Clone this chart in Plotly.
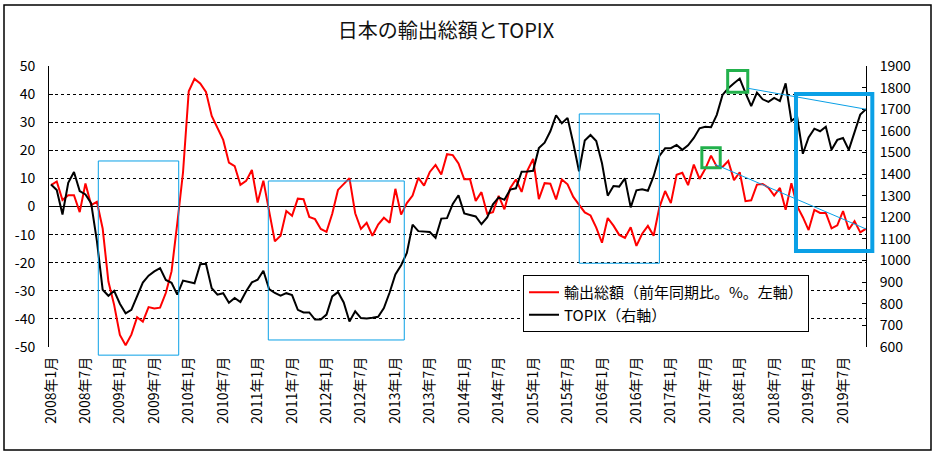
import plotly.graph_objects as go

# ---------------- data ----------------
years = list(range(2008, 2020))
months = [f"{y}年{m}月" for y in years for m in range(1, 13)][:143]   # 2008年1月 .. 2019年11月

exports_yoy = [
    # 2008
    7.6, 8.9, 2.3, 4.0, 4.0, -2.0, 8.2, 0.5, 1.7, -7.8, -26.7, -35.0,
    # 2009
    -45.7, -49.4, -45.6, -39.4, -41.0, -35.8, -36.3, -36.0, -30.8, -23.1, -6.0, 12.1,
    # 2010
    41.0, 45.4, 43.8, 40.8, 32.2, 28.0, 23.7, 15.6, 14.4, 7.7, 9.1, 13.0,
    # 2011
    1.4, 9.2, -1.5, -12.4, -10.4, -1.6, -3.3, 2.8, 2.6, -3.7, -4.5, -8.0,
    # 2012
    -9.0, -2.6, 5.9, 8.0, 10.1, -2.4, -8.0, -5.8, -10.4, -6.4, -4.0, -5.8,
    # 2013
    6.3, -2.9, 1.2, 3.9, 10.2, 7.4, 12.3, 14.8, 11.4, 18.6, 18.3, 15.3,
    # 2014
    9.7, 9.8, 2.0, 5.1, -2.6, -2.0, 3.8, -1.0, 6.5, 9.6, 5.2, 12.8,
    # 2015
    16.9, 2.6, 8.3, 8.1, 2.5, 9.6, 7.9, 3.4, 0.8, -2.1, -3.2, -7.5,
    # 2016
    -12.9, -4.1, -6.8, -10.1, -11.2, -7.4, -14.0, -9.7, -6.9, -10.4, -0.3, 5.5,
    # 2017
    1.2, 11.3, 12.0, 7.6, 14.9, 9.8, 13.4, 18.1, 14.2, 14.1, 16.2, 9.4,
    # 2018
    12.2, 1.9, 2.2, 7.8, 8.0, 6.7, 3.9, 6.6, -1.2, 8.3, 0.1, -3.8,
    # 2019
    -8.4, -1.2, -2.3, -2.3, -7.8, -6.7, -1.6, -8.2, -5.2, -9.2, -7.9,
]

topix = [
    # 2008
    1352, 1326, 1213, 1360, 1410, 1321, 1306, 1265, 1090, 865, 837, 860,
    # 2009
    800, 756, 772, 835, 898, 930, 950, 965, 910, 897, 842, 907,
    # 2010
    902, 895, 983, 985, 872, 842, 849, 805, 827, 808, 858, 899,
    # 2011
    911, 953, 868, 850, 838, 849, 840, 772, 760, 760, 727, 727,
    # 2012
    750, 834, 854, 806, 718, 765, 734, 732, 735, 740, 780, 852,
    # 2013
    936, 978, 1035, 1166, 1136, 1135, 1132, 1105, 1194, 1196, 1262, 1302,
    # 2014
    1218, 1211, 1204, 1168, 1199, 1260, 1292, 1281, 1328, 1334, 1411, 1412,
    # 2015
    1415, 1520, 1545, 1598, 1672, 1635, 1660, 1543, 1413, 1555, 1581, 1553,
    # 2016
    1450, 1300, 1345, 1342, 1380, 1246, 1325, 1330, 1323, 1390, 1484, 1519,
    # 2017
    1520, 1535, 1512, 1533, 1567, 1612, 1619, 1617, 1674, 1766, 1797, 1820,
    # 2018
    1842, 1776, 1714, 1777, 1746, 1734, 1752, 1738, 1820, 1646, 1665, 1494,
    # 2019
    1570, 1610, 1598, 1619, 1512, 1558, 1567, 1512, 1596, 1675, 1700,
]

left_ticks = [-50, -40, -30, -20, -10, 0, 10, 20, 30, 40, 50]
left_ticktext = ["-50", "-40", "-30", "-20", "-10", "0", "10", "20", "30", "40", "50"]
right_ticks = [600, 700, 800, 900, 1000, 1100, 1200, 1300, 1400, 1500, 1600, 1700, 1800, 1900]
x_ticks = months[::6]

title_text = "日本の輸出総額とTOPIX"
name_exports = "輸出総額（前年同期比。%。左軸）"
name_topix = "TOPIX（右軸）"

# highlight annotations (month index, left-axis value)
blue_boxes_thin = [(8.24, 22.25, 16.2, -52.9), (37.86, 61.55, 9.08, -47.5), (92.04, 106.0, 32.95, -20.2)]
blue_box_thick = (129.8, 143.1, 40.0, -15.8)
green_boxes = [(117.9, 121.4, 48.4, 40.7), (113.4, 116.6, 20.9, 13.8)]
trend_topix = [(121.4, 1797), (142, 1700)]      # right-axis values
trend_exports = [(115.7, 15.0), (142, -8.0)]    # left-axis values

# ---------------- layout geometry ----------------
W, H = 934, 455
ML, MR, MT, MB = 49, 68, 66, 108
XMIN, XMAX = -0.35, 142.0
YMIN, YMAX = -50, 50
R_MIN, R_MAX = 600, 1900
PW, PH = W - ML - MR, H - MT - MB

def pxp(i):
    return (i - XMIN) / (XMAX - XMIN)

def pyp(v):
    return (v - YMIN) / (YMAX - YMIN)

def r2l(r):
    return YMIN + (r - R_MIN) / (R_MAX - R_MIN) * (YMAX - YMIN)

def pix2paper(x, y):
    return (x - ML) / PW, (H - MB - y) / PH

FONT = "Noto Sans CJK JP"
BLUE = "#0AA0E6"
GREEN = "#22B14C"

fig = go.Figure()
fig.add_trace(go.Scatter(x=months, y=exports_yoy, mode="lines", name=name_exports,
                         line=dict(color="#FF0000", width=2)))
fig.add_trace(go.Scatter(x=months, y=topix, mode="lines", name=name_topix, yaxis="y2",
                         line=dict(color="#000000", width=2)))

shapes = []
for (x0, x1, y0, y1) in blue_boxes_thin:
    shapes.append(dict(type="rect", xref="paper", yref="paper", x0=pxp(x0), x1=pxp(x1),
                       y0=pyp(y0), y1=pyp(y1), line=dict(color=BLUE, width=1), layer="above"))
x0, x1, y0, y1 = blue_box_thick
shapes.append(dict(type="rect", xref="paper", yref="paper", x0=pxp(x0), x1=pxp(x1),
                   y0=pyp(y0), y1=pyp(y1), line=dict(color=BLUE, width=4), layer="above"))
for (x0, x1, y0, y1) in green_boxes:
    shapes.append(dict(type="rect", xref="paper", yref="paper", x0=pxp(x0), x1=pxp(x1),
                       y0=pyp(y0), y1=pyp(y1), line=dict(color=GREEN, width=3), layer="above"))
(a, b), (c, d) = trend_topix
shapes.append(dict(type="line", xref="paper", yref="paper", x0=pxp(a), y0=pyp(r2l(b)),
                   x1=pxp(c), y1=pyp(r2l(d)), line=dict(color=BLUE, width=1), layer="above"))
(a, b), (c, d) = trend_exports
shapes.append(dict(type="line", xref="paper", yref="paper", x0=pxp(a), y0=pyp(b),
                   x1=pxp(c), y1=pyp(d), line=dict(color=BLUE, width=1), layer="above"))
# outer chart frame
fx0, fy0 = pix2paper(4, 450)
fx1, fy1 = pix2paper(931, 5)
shapes.append(dict(type="rect", xref="paper", yref="paper", x0=fx0, y0=fy0, x1=fx1, y1=fy1,
                   line=dict(color="black", width=1.5), layer="below"))

fig.update_layout(
    width=W, height=H,
    margin=dict(l=ML, r=MR, t=MT, b=MB, pad=0),
    paper_bgcolor="white", plot_bgcolor="white",
    font=dict(family=FONT, size=13, color="black"),
    title=dict(text=title_text, x=pix2paper(446, 0)[0], xref="paper", xanchor="center",
               y=1 - 31 / H, yref="container", yanchor="middle",
               font=dict(family=FONT, size=20, color="#111111")),
    showlegend=True,
    legend=dict(x=pix2paper(523, 275)[0], y=pix2paper(523, 275)[1], xanchor="left", yanchor="top",
                bgcolor="white", bordercolor="black", borderwidth=1,
                font=dict(family=FONT, size=15, color="black"), itemwidth=30,
                tracegroupgap=0),
    xaxis=dict(type="category", range=[XMIN, XMAX], tickmode="array", tickvals=x_ticks,
               ticktext=x_ticks, tickangle=-90, showgrid=False, showline=False, ticks="",
               zeroline=False, ticklabelstandoff=6, tickfont=dict(size=14)),
    yaxis=dict(range=[YMIN, YMAX], tickmode="array", tickvals=left_ticks, ticktext=left_ticktext,
               showgrid=True, gridcolor="black", gridwidth=1, griddash="3px,3px",
               zeroline=True, zerolinecolor="black", zerolinewidth=1,
               showline=True, linecolor="black", linewidth=1, ticks="inside", ticklen=4,
               tickcolor="black", ticklabelstandoff=10, tickfont=dict(size=14)),
    yaxis2=dict(range=[R_MIN, R_MAX], overlaying="y", side="right", tickmode="array",
                tickvals=right_ticks, showgrid=False, zeroline=False,
                showline=True, linecolor="black", linewidth=1, ticks="inside", ticklen=4,
                tickcolor="black", ticklabelstandoff=10, tickfont=dict(size=14)),
    shapes=shapes,
)

fig.write_html("out.html", config={"displayModeBar": False},
               post_script="document.body.style.margin='0';document.body.style.padding='0';")
